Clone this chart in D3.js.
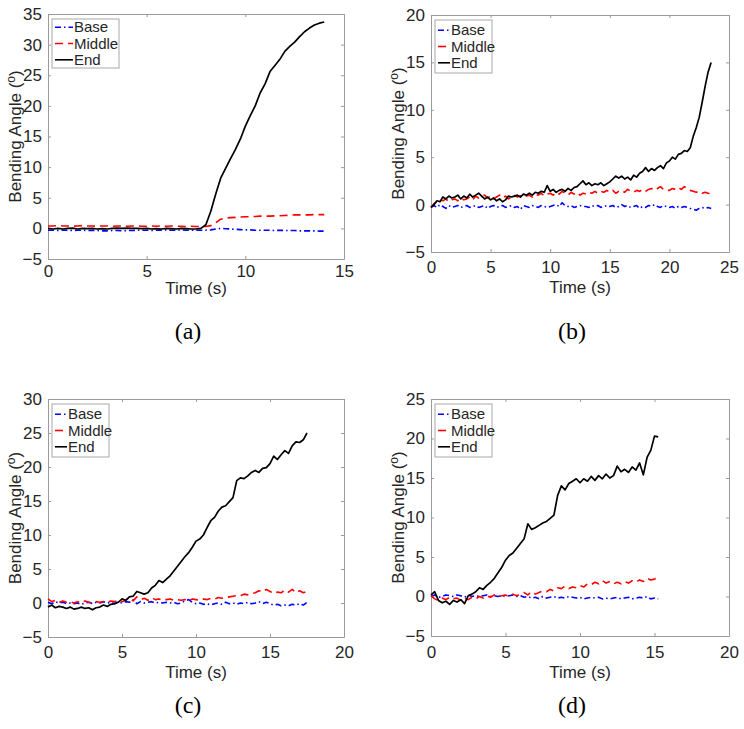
<!DOCTYPE html>
<html>
<head>
<meta charset="utf-8">
<script src="https://cdn.jsdelivr.net/npm/d3@7"></script>
<style>
body { margin: 0; background: #fff; }
svg { font-family: "Liberation Sans", Arial, sans-serif; }
</style>
</head>
<body>
<svg id="fig" width="744" height="729"></svg>
<script>
// sample spacing of every series (s)
var step = 0.25;

// (a)
var baseA = [-0.3,-0.3,-0.35,-0.3,-0.3,-0.35,-0.3,-0.3,-0.35,-0.3,-0.35,-0.4,-0.4,-0.35,-0.35,-0.4,
  -0.35,-0.35,-0.3,-0.3,-0.3,-0.35,-0.3,-0.3,-0.25,-0.3,-0.3,-0.25,-0.3,-0.3,-0.3,-0.3,
  -0.3,-0.25,-0.1,0.0,-0.05,-0.1,-0.15,-0.2,-0.25,-0.25,-0.3,-0.3,-0.3,-0.3,-0.35,-0.3,
  -0.35,-0.35,-0.35,-0.4,-0.4,-0.4,-0.4,-0.45,-0.45];
var middleA = [0.4,0.4,0.45,0.4,0.4,0.35,0.4,0.45,0.4,0.4,0.35,0.4,0.4,0.35,0.4,0.4,
  0.35,0.4,0.4,0.35,0.35,0.4,0.35,0.4,0.35,0.4,0.35,0.35,0.3,0.35,0.3,0.3,
  0.3,0.45,0.9,1.5,1.7,1.75,1.8,1.85,1.9,1.9,1.95,2.0,2.0,2.0,2.05,2.05,
  2.1,2.15,2.2,2.2,2.2,2.2,2.25,2.25,2.25];
var endA = [0.0,-0.1,0.0,-0.1,0.0,0.05,-0.1,0.0,-0.05,0.0,-0.1,-0.05,-0.1,0.0,0.05,0.0,
  0.05,0.0,0.0,-0.05,0.0,-0.1,-0.05,-0.1,0.0,-0.05,-0.1,0.0,-0.05,-0.1,-0.1,0.0,
  0.6,2.8,5.6,8.2,9.8,11.4,12.9,14.6,16.7,18.4,20.0,22.1,23.6,25.6,26.6,27.6,
  28.9,29.7,30.4,31.3,32.1,32.7,33.2,33.5,33.7];

// (b)
var baseB = [-0.3,-0.1,-0.3,0.0, -0.2,-0.4,-0.1,-0.3, -0.2,-0.1,-0.3,-0.2, -0.1,-0.3,-0.2,-0.1,
  -0.3,-0.2,-0.1,-0.4, -0.2,-0.1,-0.3,-0.2, -0.1,-0.3,-0.2,-0.1, -0.3,-0.2,-0.5,-0.1,
  -0.2,-0.3,-0.1,-0.2, -0.3,-0.1,-0.2,-0.3, -0.2,-0.1,0.0,-0.2, 0.2,-0.1,-0.2,-0.1,
  -0.3,-0.2,-0.1,-0.2, -0.2,-0.3,-0.1,-0.2, -0.1,-0.3,-0.2,-0.1, -0.2,-0.1,-0.3,-0.2,
  0.0,-0.2,-0.1,-0.3, -0.2,-0.1,-0.4,-0.2, -0.3,-0.1,-0.2,0.0, -0.2,-0.3,-0.1,-0.2,
  -0.3,-0.2,-0.4,-0.2, -0.3,-0.2,-0.3,-0.4, -0.5,-0.6,-0.4,-0.3, -0.4,-0.3,-0.4];
var middleB = [-0.3,0.1,0.3,0.5, 0.4,0.6,0.3,0.5, 0.6,0.4,0.7,0.5, 0.6,0.8,0.5,0.9,
  0.7,0.9,1.0,0.7, 0.9,0.6,0.8,1.0, 0.7,0.9,0.6,0.8, 1.0,0.8,0.9,1.1,
  0.9,1.0,0.8,1.1, 1.0,1.2,0.9,1.1, 1.2,1.0,1.3,1.1, 1.4,1.2,1.0,1.3,
  1.1,1.3,1.0,1.2, 1.1,1.3,1.2,1.4, 1.2,1.4,1.3,1.5, 1.3,1.5,1.2,1.4,
  1.5,1.3,1.6,1.4, 1.3,1.5,1.4,1.6, 1.4,1.6,1.7,1.5, 1.7,1.9,1.6,1.5,
  1.5,1.7,1.6,1.8, 1.6,1.9,1.7,1.5, 1.4,1.3,1.4,1.2, 1.3,1.2,1.1];
var endB = [-0.3,0.0,0.4,0.3, 0.8,0.6,0.9,0.7, 0.8,1.0,0.6,0.9, 0.7,1.1,0.8,1.0,
  1.2,0.9,0.6,0.8, 0.5,0.7,0.4,0.6, 0.3,0.5,0.9,0.8, 0.9,1.0,0.8,1.1,
  1.0,1.2,1.0,1.3, 1.2,1.4,1.3,2.0, 1.4,1.6,1.3,1.5, 1.6,1.4,1.7,1.5,
  1.8,1.9,2.2,2.5, 2.1,2.3,2.0,2.2, 2.1,2.3,2.0,2.2, 2.4,2.7,3.0,2.8,
  3.0,2.7,2.9,2.6, 3.1,2.9,3.3,3.5, 3.9,3.5,3.8,3.6, 3.9,4.1,3.8,4.4,
  4.6,5.0,4.8,5.3, 5.4,5.7,5.6,6.0, 7.2,8.1,9.2,10.8, 12.5,14.0,15.0];

// (c)
var baseC = [0.1,-0.1,0.2,0.0, 0.1,-0.1,0.0,-0.1, 0.0,-0.2,0.0,0.1, -0.1,0.1,0.0,0.2,
  0.0,0.1,-0.1,0.2, 0.0,0.2,0.1,0.5, -0.1,0.2,0.0,0.1, 0.2,0.0,0.1,0.0,
  0.1,0.0,0.1,-0.1, 0.0,0.3,0.5,0.1, -0.1,0.0,-0.2,-0.1, -0.3,-0.1,0.0,-0.2,
  0.1,-0.1,0.0,-0.2, 0.0,-0.1,0.1,-0.1, 0.0,0.2,-0.1,0.1, -0.1,-0.3,-0.2,-0.4,
  -0.3,-0.4,-0.2,-0.3, -0.1,-0.3,0.1];
var middleC = [0.6,0.2,0.4,0.1, 0.3,0.1,0.2,0.0, 0.2,0.0,0.3,0.1, 0.0,0.2,0.1,0.2,
  0.1,0.3,0.2,0.4, 0.2,0.4,0.8,0.3, 0.9,0.5,0.7,0.4, 0.8,0.5,0.6,0.4,
  0.5,0.6,0.4,0.5, 0.4,0.5,0.3,0.6, 0.5,0.4,0.6,0.5, 0.7,0.6,0.8,0.7,
  0.8,0.9,1.0,1.1, 1.1,1.3,1.2,1.4, 1.5,1.8,1.6,2.0, 1.7,1.4,1.6,1.5,
  1.9,1.6,2.0,1.5, 1.8,1.5,1.7];
var endC = [-0.6,-0.3,-0.7,-0.5, -0.6,-0.8,-0.6,-0.9, -0.8,-0.6,-0.8,-0.7, -1.0,-0.7,-0.6,-0.3,
  -0.5,-0.2,-0.1,0.1, 0.6,0.4,0.9,1.0, 1.7,1.5,1.3,1.5, 2.2,2.6,3.3,3.0,
  3.5,4.0,4.7,5.4, 6.1,6.8,7.4,8.2, 9.1,9.4,10.0,11.1, 12.1,12.6,13.5,14.1,
  14.3,14.9,15.5,18.0, 18.4,18.3,18.7,19.2, 19.5,19.2,19.8,19.9, 20.5,21.6,21.1,21.8,
  22.4,22.0,23.1,23.7, 23.6,24.0,25.0];

// (d)
var baseD = [0.0,0.2,-0.1,0.0, 0.2,0.1,0.0,0.2, 0.1,-0.1,0.2,0.0, 0.1,0.0,0.1,0.2,
  0.0,0.1,0.0,0.1, 0.0,0.1,0.2,0.0, 0.1,-0.1,0.0,-0.2, -0.1,-0.3,0.0,-0.2,
  -0.1,0.0,-0.2,-0.1, -0.2,0.0,-0.1,-0.2, -0.1,-0.3,-0.2,-0.1, -0.2,-0.1,-0.3,-0.2,
  -0.3,-0.2,-0.1,-0.3, -0.2,-0.1,-0.3,-0.2, -0.1,-0.2,0.0,-0.3, -0.2,-0.3];
var middleD = [0.1,-0.3,-0.5,-0.2, -0.4,-0.1,-0.3,-0.2, -0.5,-0.2,-0.4,-0.1, -0.3,0.0,-0.2,0.1,
  -0.1,0.2,0.0,0.1, 0.2,0.0,0.3,0.1, 0.3,0.5,0.2,0.6, 0.3,0.5,0.7,0.6,
  0.9,0.7,1.1,1.0, 1.3,1.0,1.2,1.1, 1.4,1.2,1.6,1.5, 1.8,1.6,2.0,1.7,
  1.9,1.6,1.8,1.6, 1.9,1.7,2.0,1.8, 2.1,1.9,2.3,2.1, 2.2,2.4];
var endD = [0.2,0.6,-0.5,-0.8, -0.6,-1.0,-0.5,-0.7, -0.4,-0.9,0.1,0.3, 0.6,1.1,0.9,1.4,
  1.8,2.3,3.0,3.7, 4.6,5.2,5.5,6.1, 6.7,7.3,9.2,8.5, 8.7,9.0,9.3,9.5,
  9.9,10.3,12.8,14.0, 13.5,14.3,14.6,14.9, 14.4,14.9,14.6,15.2, 14.7,15.3,14.9,15.5,
  15.0,15.3,16.5,15.8, 16.1,15.7,16.4,16.0, 16.9,15.4,17.6,18.5, 20.3,20.2];

var seriesNames = ["Base", "Middle", "End"];
var captions = ["(a)", "(b)", "(c)", "(d)"];
var xTicksA = [0, 5, 10, 15];
var xTicksB = [0, 5, 10, 15, 20, 25];
var xTicksCD = [0, 5, 10, 15, 20];
var yTicksA = [-5, 0, 5, 10, 15, 20, 25, 30, 35];
var yTicksB = [-5, 0, 5, 10, 15, 20];
var yTicksC = [-5, 0, 5, 10, 15, 20, 25, 30];
var yTicksD = [-5, 0, 5, 10, 15, 20, 25];

var styles = [
  { color: "#0000ff", dash: "6,3,1.5,3" },
  { color: "#ff0000", dash: "8,5" },
  { color: "#000000", dash: null }
];

var panels = [
  { series: [baseA, middleA, endA], xTicks: xTicksA, yTicks: yTicksA,
    left: 48, right: 344, top: 14, bottom: 259, tickPad: 6, timeY: 294, capY: 339,
    legW: 67, legH: 49, legLine: 18 },
  { series: [baseB, middleB, endB], xTicks: xTicksB, yTicks: yTicksB,
    left: 431, right: 729, top: 15, bottom: 252, tickPad: 9, timeY: 293, capY: 339,
    legW: 57, legH: 53, legLine: 12 },
  { series: [baseC, middleC, endC], xTicks: xTicksCD, yTicks: yTicksC,
    left: 48, right: 344, top: 399, bottom: 637, tickPad: 9, timeY: 678, capY: 713,
    legW: 57, legH: 53, legLine: 12 },
  { series: [baseD, middleD, endD], xTicks: xTicksCD, yTicks: yTicksD,
    left: 431, right: 729, top: 399, bottom: 636, tickPad: 10, timeY: 678, capY: 713,
    legW: 57, legH: 53, legLine: 12 }
];

var svg = d3.select("#fig");
var axisColor = "#9a9a9a";
var textColor = "#262626";

panels.forEach(function(p, pi) {
  var x = d3.scaleLinear()
    .domain([p.xTicks[0], p.xTicks[p.xTicks.length - 1]])
    .range([p.left, p.right]);
  var y = d3.scaleLinear()
    .domain([p.yTicks[0], p.yTicks[p.yTicks.length - 1]])
    .range([p.bottom, p.top]);

  var g = svg.append("g");

  // axes, ticks pointing inward on all four sides
  var xb = g.append("g").attr("transform", "translate(0," + p.bottom + ")")
    .call(d3.axisBottom(x).tickValues(p.xTicks).tickSize(-3).tickSizeOuter(0).tickPadding(p.tickPad));
  var xt = g.append("g").attr("transform", "translate(0," + p.top + ")")
    .call(d3.axisTop(x).tickValues(p.xTicks).tickSize(-3).tickSizeOuter(0).tickFormat(""));
  var yl = g.append("g").attr("transform", "translate(" + p.left + ",0)")
    .call(d3.axisLeft(y).tickValues(p.yTicks).tickSize(-3).tickSizeOuter(0).tickPadding(6));
  var yr = g.append("g").attr("transform", "translate(" + p.right + ",0)")
    .call(d3.axisRight(y).tickValues(p.yTicks).tickSize(-3).tickSizeOuter(0).tickFormat(""));

  [xb, xt, yl, yr].forEach(function(a) {
    a.selectAll("path, line").attr("stroke", axisColor);
    a.selectAll("text").attr("fill", textColor)
      .style("font-size", "17px").style("font-family", "'Liberation Sans', Arial, sans-serif");
  });

  // lines
  var line = d3.line()
    .x(function(d, i) { return x(i * step); })
    .y(function(d) { return y(d); });

  p.series.forEach(function(s, si) {
    g.append("path")
      .datum(s)
      .attr("d", line)
      .attr("fill", "none")
      .attr("stroke", styles[si].color)
      .attr("stroke-width", si === 2 ? 1.7 : 1.6)
      .attr("stroke-dasharray", styles[si].dash)
      .attr("stroke-linejoin", "round");
  });

  // axis titles
  var cx = (p.left + p.right) / 2;
  g.append("text")
    .attr("x", cx).attr("y", p.timeY)
    .attr("text-anchor", "middle")
    .attr("fill", textColor)
    .style("font-size", "17px")
    .text("Time (s)");

  var yt = g.append("text")
    .attr("transform", "translate(" + (p.left - 27) + "," + ((p.top + p.bottom) / 2) + ") rotate(-90)")
    .attr("text-anchor", "middle")
    .attr("fill", textColor)
    .style("font-size", "17px");
  yt.append("tspan").text("Bending Angle (");
  yt.append("tspan").attr("dy", -6).style("font-size", "12px").text("o");
  yt.append("tspan").attr("dy", 6).text(")");

  // caption
  g.append("text")
    .attr("x", cx - 8).attr("y", p.capY)
    .attr("text-anchor", "middle")
    .attr("fill", "#000")
    .style("font-family", "'Liberation Serif', 'Times New Roman', serif")
    .style("font-size", "24px")
    .text(captions[pi]);

  // legend
  var lg = g.append("g").attr("transform", "translate(" + (p.left + 4) + "," + (p.top + 5) + ")");
  lg.append("rect")
    .attr("width", p.legW).attr("height", p.legH)
    .attr("fill", "#fff").attr("stroke", "#a8a8a8").attr("stroke-width", 1);
  seriesNames.forEach(function(name, si) {
    var ry = p.legH / 2 + (si - 1) * 16.3;
    lg.append("line")
      .attr("x1", 3).attr("x2", 3 + p.legLine)
      .attr("y1", ry).attr("y2", ry)
      .attr("stroke", styles[si].color)
      .attr("stroke-width", 1.6)
      .attr("stroke-dasharray", styles[si].dash);
    lg.append("text")
      .attr("x", 4 + p.legLine).attr("y", ry + 5)
      .attr("fill", textColor)
      .style("font-size", "15px")
      .text(name);
  });
});
</script>
</body>
</html>
